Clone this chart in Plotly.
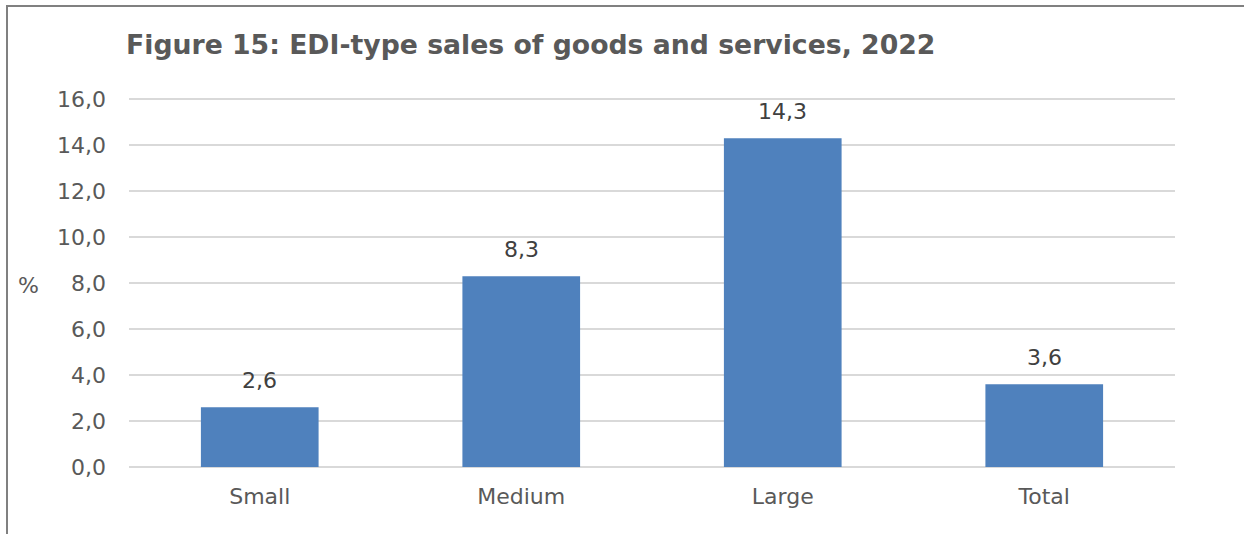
import plotly.graph_objects as go

categories = ["Small", "Medium", "Large", "Total"]
values = [2.6, 8.3, 14.3, 3.6]
y_ticks = [0, 2, 4, 6, 8, 10, 12, 14, 16]

W, H = 1244, 534
L, T = 129, 98
pw, ph = 1046, 369
R = W - L - pw
B = H - T - ph

def px_x(x):
    return (x - L) / pw

def px_y(y):
    return (T + ph - y) / ph

fig = go.Figure()
fig.add_trace(go.Bar(
    x=categories, y=values,
    marker=dict(color="#4F81BD", line=dict(width=0)),
    hoverinfo="x+y",
))

label_annotations = [
    dict(x=c, y=v, xref="x", yref="y", text=f"{v:.1f}".replace(".", ","),
         showarrow=False, yanchor="bottom", xanchor="center", yshift=12,
         font=dict(family="DejaVu Sans", size=22, color="#404040"))
    for c, v in zip(categories, values)
]

fig.update_layout(
    width=W, height=H,
    margin=dict(l=L, r=R, t=T, b=B),
    paper_bgcolor="white", plot_bgcolor="white",
    separators=",.",
    bargap=0.55,
    showlegend=False,
    font=dict(family="DejaVu Sans", color="#595959"),
    xaxis=dict(showgrid=False, showline=False, ticks="",
               ticklabelstandoff=14,
               tickfont=dict(size=22, color="#595959")),
    yaxis=dict(range=[0, 16.05], tickvals=y_ticks, tickformat=".1f",
               showgrid=True, gridcolor="#d9d9d9", gridwidth=2,
               zeroline=True, zerolinecolor="#d9d9d9", zerolinewidth=2,
               showline=False, ticks="", ticklabelstandoff=22,
               tickfont=dict(size=22, color="#595959")),
    annotations=label_annotations + [
        dict(text="<b>Figure 15: EDI-type sales of goods and services, 2022</b>",
             xref="paper", yref="paper", x=px_x(124), y=px_y(44),
             xanchor="left", yanchor="middle", showarrow=False,
             font=dict(family="DejaVu Sans", size=26.7, color="#595959")),
        dict(text="%", xref="paper", yref="paper", x=px_x(28), y=px_y(285),
             xanchor="center", yanchor="middle", showarrow=False,
             font=dict(family="DejaVu Sans", size=22, color="#595959")),
    ],
    shapes=[
        dict(type="line", xref="paper", yref="paper",
             x0=px_x(7), x1=px_x(7), y0=px_y(5), y1=px_y(560),
             line=dict(color="#808080", width=2)),
        dict(type="line", xref="paper", yref="paper",
             x0=px_x(6), x1=px_x(1260), y0=px_y(6), y1=px_y(6),
             line=dict(color="#808080", width=2)),
    ],
)

fig.write_html("out.html", config={"displayModeBar": False},
               post_script="document.body.style.margin='0';")
